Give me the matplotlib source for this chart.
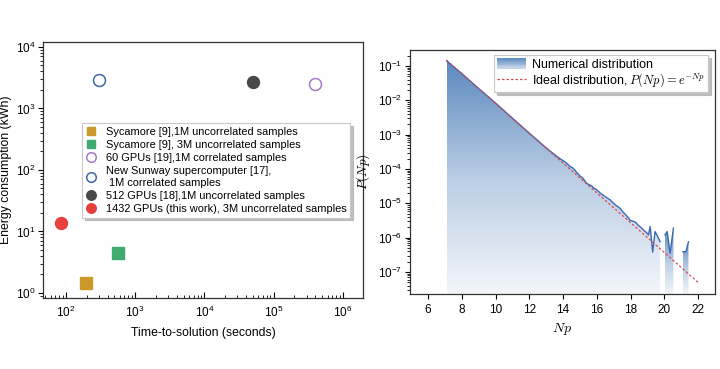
import numpy as np
import matplotlib
matplotlib.use("Agg")
import matplotlib.pyplot as plt
from matplotlib.colors import LinearSegmentedColormap
from matplotlib.legend_handler import HandlerBase
from matplotlib.patches import Rectangle
from matplotlib.lines import Line2D
from matplotlib.ticker import LogLocator

plt.rcParams['font.family'] = ['Liberation Sans', 'DejaVu Sans']
plt.rcParams['mathtext.fontset'] = 'cm'

# ---------------- Left panel data ----------------
labels = ["Sycamore [9],1M uncorrelated samples",
          "Sycamore [9], 3M uncorrelated samples",
          "60 GPUs [19],1M correlated samples",
          "New Sunway supercomputer [17],\n 1M correlated samples",
          "512 GPUs [18],1M uncorrelated samples",
          "1432 GPUs (this work), 3M uncorrelated samples"]
time_s = [193, 570, 390000, 296, 50000, 85]
energy_kwh = [1.45, 4.5, 2500, 2900, 2700, 13.8]
markers = ['s', 's', 'o', 'o', 'o', 'o']
colors = ['#c99a2a', '#3fab70', '#a878c8', '#3e66a8', '#484848', '#e8403e']
filled = [True, True, False, False, True, True]

# ---------------- Right panel data ----------------
seg1_np = [7.1, 8, 9, 10, 11, 12, 13, 13.5, 13.82, 14.0, 14.2, 14.4, 14.61, 14.8,
           15.0, 15.2, 15.4, 15.55, 15.7, 15.85, 15.99, 16.2, 16.4, 16.6, 16.79,
           16.95, 17.1, 17.25, 17.38, 17.55, 17.7, 17.85, 17.97, 18.15, 18.3,
           18.45, 18.56, 18.7, 18.8, 18.95, 19.06, 19.16, 19.31, 19.45, 19.6, 19.75]
seg1_p = [1.4e-1, 6.0e-2, 2.2e-2, 8.3e-3, 3.0e-3, 1.1e-3, 4.1e-4, 2.6e-4, 2.0e-4,
          1.75e-4, 1.5e-4, 1.2e-4, 1.05e-4, 8.0e-5, 6.3e-5, 5.2e-5, 3.8e-5, 3.5e-5,
          3.2e-5, 2.7e-5, 2.5e-5, 2.0e-5, 1.7e-5, 1.45e-5, 1.26e-5, 1.05e-5, 8.9e-6,
          8.0e-6, 7.1e-6, 5.6e-6, 4.7e-6, 3.9e-6, 3.2e-6, 3.0e-6, 2.8e-6, 2.3e-6,
          2.1e-6, 1.8e-6, 1.6e-6, 1.4e-6, 1.2e-6, 2.1e-6, 3.8e-7, 1.5e-6, 1.1e-6, 7.6e-7]
seg2_np = [20.04, 20.17, 20.34, 20.54]
seg2_p = [1.2e-6, 1.5e-6, 3.5e-7, 1.9e-6]
seg3_np = [21.1, 21.28, 21.43]
seg3_p = [3.9e-7, 3.9e-7, 7.6e-7]
ideal_np = [7.1, 22.0]
ideal_p = [1.48e-1, 5.0e-8]

fig = plt.figure(figsize=(7.2, 3.69), dpi=100)

# ================= Left panel =================
ax1 = fig.add_axes([0.0597, 0.1924, 0.4444, 0.6938])
for t, e, m, c, f, lab in zip(time_s, energy_kwh, markers, colors, filled, labels):
    ms = 8.0 if m == 's' else 8.6
    ax1.plot([t], [e], linestyle='none', marker=m, markersize=ms,
             markerfacecolor=c if f else 'none', markeredgecolor=c,
             markeredgewidth=1.0 if f else 1.1, label=lab)
ax1.set_xscale('log')
ax1.set_yscale('log')
ax1.set_xlim(46.6, 1.95e6)
ax1.set_ylim(0.83, 1.2e4)
ax1.set_xlabel("Time-to-solution (seconds)", fontsize=8.8, labelpad=5)
ax1.set_ylabel("Energy consumption (kWh)", fontsize=8.8, labelpad=3)
ax1.tick_params(axis='x', which='both', direction='in', labelsize=8.5, pad=5)
ax1.tick_params(axis='x', which='major', length=4, width=0.8)
ax1.tick_params(axis='x', which='minor', length=2.2, width=0.6)
ax1.tick_params(axis='y', which='both', direction='out', labelsize=8.5, pad=2)
ax1.tick_params(axis='y', which='major', length=3.5, width=0.8)
ax1.tick_params(axis='y', which='minor', length=2, width=0.6)
for sp in ax1.spines.values():
    sp.set_linewidth(0.9)
    sp.set_color('#333333')
leg1 = ax1.legend(loc='upper left', bbox_to_anchor=(0.122, 0.684), borderaxespad=0,
                  fontsize=7.9, numpoints=1, markerscale=0.8, handlelength=1.0,
                  handletextpad=0.8, labelspacing=0.28, borderpad=0.35,
                  fancybox=False, shadow={'color': '#b0b0b0', 'alpha': 0.8},
                  framealpha=1, edgecolor='#c8c8c8')
leg1.get_frame().set_linewidth(0.8)

# ================= Right panel =================
ax2 = fig.add_axes([0.5694, 0.2033, 0.4236, 0.6612])
ax2.set_yscale('log')
ax2.set_xlim(4.93, 23.0)
ax2.set_ylim(2.29e-8, 0.292)

cmap = LinearSegmentedColormap.from_list('bluefade', ['#f3f6fa', '#b9cde4', '#5c89bf'])
grad = np.linspace(0, 1, 256).reshape(-1, 1)
to_axes = ax2.transAxes.inverted()
line_color = '#3b68b4'
base = 1e-9
for xs, ps in [(seg1_np, seg1_p), (seg2_np, seg2_p), (seg3_np, seg3_p)]:
    poly = ax2.fill_between(xs, ps, base, facecolor='none', edgecolor='none')
    pts = to_axes.transform(ax2.transData.transform(np.column_stack([xs, ps])))
    xa0, xa1 = pts[:, 0].min(), pts[:, 0].max()
    ytop = pts[:, 1].max()
    im = ax2.imshow(grad, cmap=cmap, origin='lower', aspect='auto',
                    extent=(xa0, xa1, 0, ytop), transform=ax2.transAxes,
                    interpolation='bilinear', zorder=1)
    im.set_clip_path(poly.get_paths()[0], transform=ax2.transData)
    ax2.plot(xs, ps, color=line_color, lw=1.0, zorder=3)

ax2.plot(ideal_np, ideal_p, color='#d9484f', lw=0.9, linestyle=(0, (2.0, 1.6)), zorder=4)

ax2.set_xticks([6, 8, 10, 12, 14, 16, 18, 20, 22])
ax2.set_xlabel(r"$Np$", fontsize=10, labelpad=3)
ax2.set_ylabel(r"$P(Np)$", fontsize=9.5, labelpad=4)
ax2.tick_params(axis='both', which='both', direction='out', labelsize=8.5)
ax2.tick_params(axis='x', which='major', length=3.5, width=0.8, pad=4)
ax2.tick_params(axis='y', which='major', length=3.5, width=0.8, pad=2)
ax2.tick_params(axis='y', which='minor', length=2, width=0.6)
ax2.yaxis.set_major_locator(LogLocator(base=10, numticks=20))
ax2.yaxis.set_minor_locator(LogLocator(base=10, subs=np.arange(2, 10), numticks=20))
for sp in ax2.spines.values():
    sp.set_linewidth(0.9)
    sp.set_color('#333333')


class GradientHandler(HandlerBase):
    def create_artists(self, legend, orig_handle, xdescent, ydescent, width, height,
                       fontsize, trans):
        n = 12
        arts = []
        for i in range(n):
            r = Rectangle((-xdescent, -ydescent + height * i / n), width, height / n + 0.2,
                          facecolor=cmap(0.35 + 0.65 * (i + 0.5) / n), edgecolor='none',
                          transform=trans)
            arts.append(r)
        return arts


grad_handle = Rectangle((0, 0), 1, 1)
ideal_handle = Line2D([], [], color='#d9484f', lw=0.9, linestyle=(0, (2.0, 1.6)))
leg2 = ax2.legend([grad_handle, ideal_handle],
                  ["Numerical distribution", r"Ideal distribution, $P(Np) = e^{-Np}$"],
                  handler_map={Rectangle: GradientHandler()},
                  loc='upper right', bbox_to_anchor=(0.977, 0.98), borderaxespad=0,
                  fontsize=9, handlelength=2.3, handleheight=1.0, handletextpad=0.5,
                  labelspacing=0.05, borderpad=0.25, fancybox=False,
                  shadow={'color': '#b0b0b0', 'alpha': 0.8},
                  framealpha=1, edgecolor='#c8c8c8')
leg2.get_frame().set_linewidth(0.8)

fig.savefig("out.png", dpi=100)
